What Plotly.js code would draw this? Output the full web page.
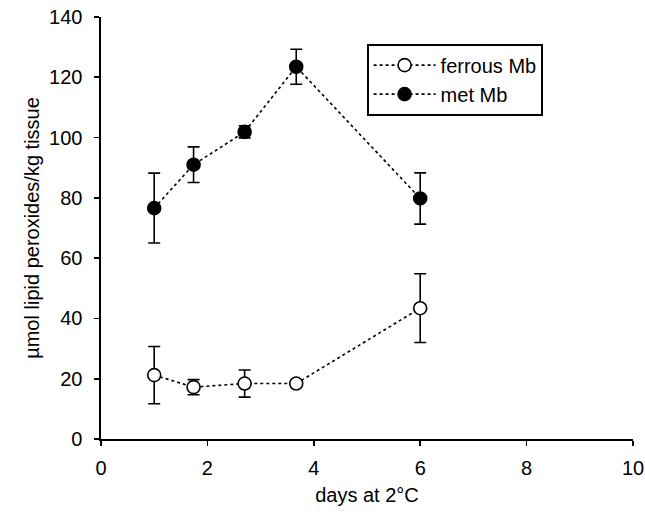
<!DOCTYPE html>
<html><head><meta charset="utf-8">
<script src="https://cdn.plot.ly/plotly-3.0.1.min.js"></script>
<style>html,body{margin:0;padding:0;background:#fff}</style>
</head><body><div id="chart" style="width:645px;height:519px"></div>
<script>
const days = [1, 1.74, 2.7, 3.67, 6];
const ferrousMb = [21.2, 17.2, 18.4, 18.4, 43.4];
const ferrousErr = [9.5, 2.5, 4.5, 1.1, 11.4];
const metMb = [76.6, 91, 101.9, 123.5, 79.8];
const metErr = [11.6, 5.9, 2.0, 5.8, 8.5];
const seriesNames = ['ferrous Mb', 'met Mb'];

const font = {family: 'Liberation Sans, Arial, sans-serif', size: 20, color: '#000'};
function trace(y, err, name, fill) {
  return {
    x: days, y: y, name: name, type: 'scatter', mode: 'lines+markers',
    line: {color: '#000', width: 1.6, dash: 'dot'},
    marker: {symbol: 'circle', size: 13, color: fill, line: {color: '#000', width: 1.6}},
    error_y: {type: 'data', array: err, visible: true, color: '#000', thickness: 1.6, width: 6}
  };
}
const data = [trace(ferrousMb, ferrousErr, seriesNames[0], '#fff'), trace(metMb, metErr, seriesNames[1], '#000')];
const layout = {
  width: 645, height: 519,
  margin: {l: 101, r: 12, t: 17, b: 80},
  paper_bgcolor: '#fff', plot_bgcolor: '#fff',
  font: font, showlegend: true,
  xaxis: {range: [0, 10], dtick: 2, tick0: 0, showgrid: false, zeroline: false,
    showline: true, linecolor: '#000', linewidth: 1.6, ticks: 'outside', ticklen: 5, tickwidth: 1.6, tickcolor: '#000',
    ticklabelstandoff: 5,
    title: {text: 'days at 2°C', font: font, standoff: 10}},
  yaxis: {range: [0, 140], dtick: 20, tick0: 0, showgrid: false, zeroline: false,
    showline: true, linecolor: '#000', linewidth: 1.6, ticks: 'outside', ticklen: 5, tickwidth: 1.6, tickcolor: '#000',
    ticklabelstandoff: 8,
    title: {text: 'µmol lipid peroxides/kg tissue', font: font, standoff: 4}},
  legend: {x: 0.5, y: 0.936, xanchor: 'left', yanchor: 'top', bordercolor: '#000', borderwidth: 1.6,
    bgcolor: '#fff', font: font, tracegroupgap: 0, itemwidth: 62}
};
Plotly.newPlot('chart', data, layout, {displayModeBar: false, staticPlot: true});
</script></body></html>
